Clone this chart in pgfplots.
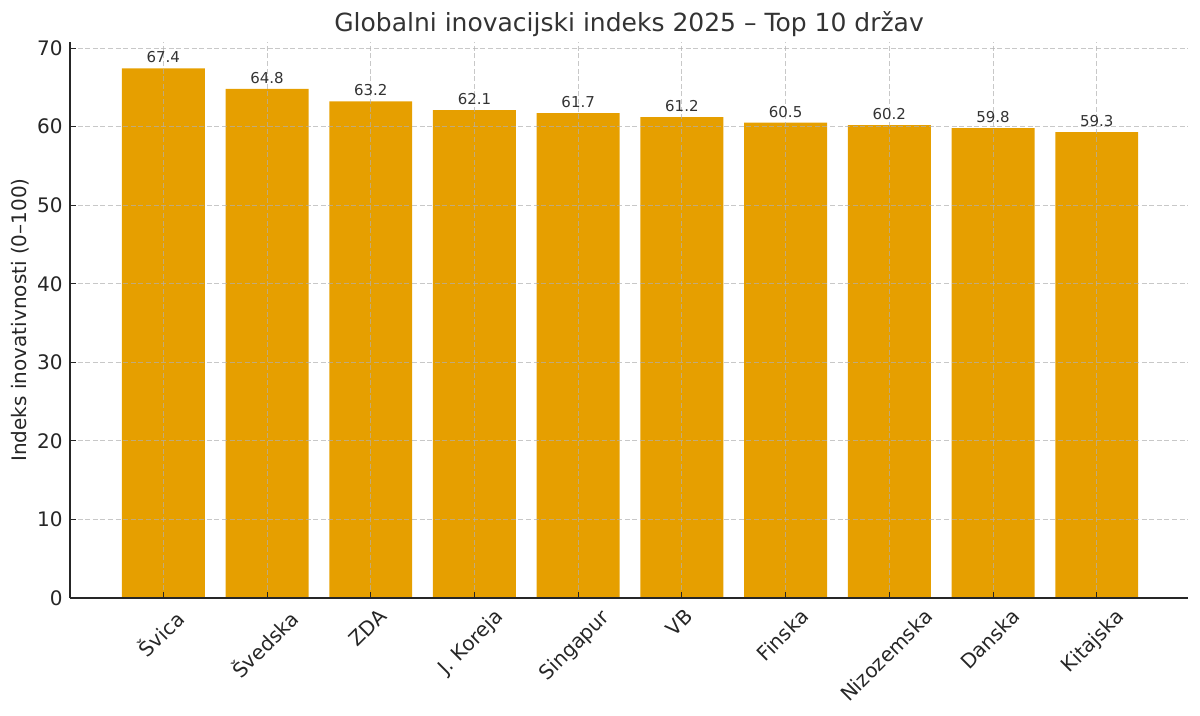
\documentclass[border=0pt]{standalone}
\usepackage{pgfplots}
\pgfplotsset{compat=1.18}
\usepackage{fontspec}
\setmainfont{DejaVu Sans}
\definecolor{barc}{HTML}{E69F00}
\definecolor{gridc}{HTML}{B0B0B0}
\definecolor{txt}{HTML}{262626}
\definecolor{ttl}{HTML}{333333}
\newcommand\rl[1]{\setbox0=\hbox{#1}\dimen0=\dimexpr(\wd0-\ht0-\dp0)/4\relax\dimen2=\dimexpr\ht0+\dimen0\relax\hbox{\box0\kern-\dimen0\vrule width0pt height\dimen2 depth0pt}}
\begin{document}
\begin{tikzpicture}
\path[use as bounding box] (-35pt,-59pt) rectangle (565pt,299pt);
\begin{axis}[
  at={(0,0)}, anchor=south west,
  scale only axis,
  width=559pt, height=278pt,
  xmin=-0.9, xmax=9.88,
  ymin=0, ymax=70.77,
  axis lines*=left,
  axis line style={color=txt, line width=0.6pt},
  axis on top,
  ytick={0,10,...,70},
  xtick={0,...,9},
  xticklabels={\rl{Švica},\rl{Švedska},\rl{ZDA},\rl{J. Koreja},\rl{Singapur},\rl{VB},\rl{Finska},\rl{Nizozemska},\rl{Danska},\rl{Kitajska}},
  tick style={color=txt, line width=0.5pt},
  tick align=inside,
  major tick length=2.8pt,
  tick label style={font=\fontsize{10}{12}\selectfont, color=txt},
  /pgf/number format/assume math mode=true,
  yticklabel style={inner sep=0pt, xshift=-3.5pt},
  xticklabel style={yshift=-4.5pt, xshift=-1.5pt, rotate=45, anchor=north east, inner sep=0pt},
  grid=major,
  major grid style={color=gridc, opacity=0.7, line width=0.5pt, dash pattern=on 2.5pt off 1.3pt},
  ylabel={Indeks inovativnosti (0–100)},
  ylabel style={font=\fontsize{10}{12}\selectfont, color=txt, at={(axis description cs:-0.0447,0.5)}, anchor=center},
  every axis title shift=0pt,
  title={Globalni inovacijski indeks 2025 – Top 10 držav},
  title style={font=\fontsize{12.5}{15}\selectfont, color=ttl, at={(axis description cs:0.5,1)}, anchor=center, yshift=9pt},
  nodes near coords,
  nodes near coords style={font=\fontsize{7.5}{9}\selectfont, color=ttl, anchor=south, inner sep=0pt, yshift=2.5pt, /pgf/number format/fixed, /pgf/number format/fixed zerofill, /pgf/number format/precision=1, /pgf/number format/assume math mode=true},
]
\addplot[ybar, bar width=0.8, fill=barc, draw=none] coordinates {
(0,67.4) (1,64.8) (2,63.2) (3,62.1) (4,61.7) (5,61.2) (6,60.5) (7,60.2) (8,59.8) (9,59.3)
};
\end{axis}
\end{tikzpicture}
\end{document}
